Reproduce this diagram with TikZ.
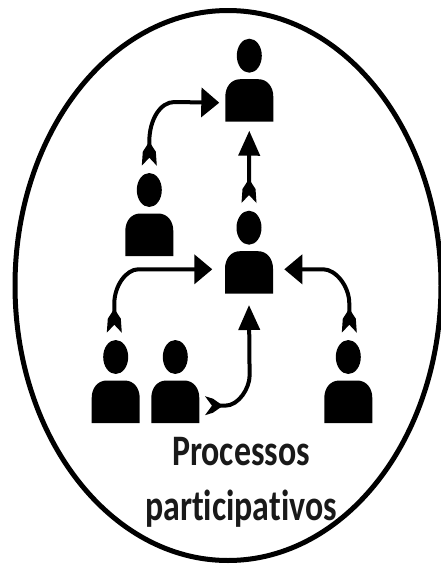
\documentclass[tikz,border=0pt]{standalone}
\usepackage{fontspec}
\setmainfont[Ligatures=NoCommon]{Carlito}
\usetikzlibrary{arrows.meta,calc}
\newcommand{\capt}[1]{\scalebox{1.13}[1.45]{\bfseries\fontsize{30}{30}\selectfont #1}}
\tikzset{
  x=1pt,y=-1pt,
  link/.style={line width=4pt,black},
  vhead/.style={-{Triangle[length=25pt,width=21pt]}},
  hhead/.style={-{Triangle[length=18pt,width=29pt]}},
  caption/.style={inner sep=0pt,text=black!90},
  vfletch/.pic={
    \fill[black] (0,-24) -- (6.5,-14) -- (7.5,0) -- (0,-8) -- (-7.5,0) -- (-6.5,-14) -- cycle;
  },
  hfletch/.pic={
    \fill[black] (18,0) -- (8,-7) -- (0,-9.5) -- (7,0) -- (0,9.5) -- (8,7) -- cycle;
  },
  person/.pic={
    \coordinate (-c) at (0,0);
    \fill[black] (0,0) ellipse [x radius=12.5pt,y radius=17pt];
    \fill[black] (-24,66) -- (-24,41) .. controls (-24,31) and (-18,23.5) .. (-9,23.5)
      -- (9,23.5) .. controls (18,23.5) and (24,31) .. (24,41) -- (24,66) -- cycle;
    \coordinate (-top) at (0,-17);
  }
}
\begin{document}
\begin{tikzpicture}
\useasboundingbox (0,0) rectangle (441,566);
\fill[white] (0,0) rectangle (441,566);
\begin{scope}
\clip (0,0) rectangle (441,566);
\coordinate (frame) at (228,285.5);
\draw[black,line width=5pt] (frame) ellipse [x radius=213pt,y radius=275pt];
\end{scope}
\pic (top) at (249.3,55.7) {person};
\pic (left) at (149.3,190) {person};
\pic (mid) at (249,227.7) {person};
\pic (low) at (115.7,357) {person};
\pic (second) at (175.3,357) {person};
\pic (right) at (348.3,357) {person};
\coordinate (topIn) at ($(top-c)+(-30,47)$);
\coordinate (topUnder) at ($(top-c)+(0,75)$);
\coordinate (midIn) at ($(mid-c)+(-36.7,41.6)$);
\coordinate (midInR) at ($(mid-c)+(35.3,41.6)$);
\coordinate (midUnder) at ($(mid-c)+(0,77.3)$);
\coordinate (leftTail) at ($(left-top)+(0,-7.3)$);
\coordinate (midTail) at ($(mid-top)+(0,-7.7)$);
\coordinate (lowTail) at ($(low-top)+(-1.4,-7.3)$);
\coordinate (rightTail) at ($(right-top)+(1,-7.3)$);
\coordinate (secondTail) at ($(second-c)+(29.7,48.7)$);
\pic at (leftTail) {vfletch};
\pic at (midTail) {vfletch};
\pic at (lowTail) {vfletch};
\pic at (rightTail) {vfletch};
\pic at (secondTail) {hfletch};
\draw[link,hhead] ($(leftTail)+(0,-15)$) -- ++(0,-9)
  .. controls +(0,-22) and +(-14,0) .. ++(25,-39.7) -- (topIn);
\draw[link,vhead] ($(midTail)+(0,-15)$) -- (topUnder);
\draw[link,hhead] ($(lowTail)+(0,-15)$) -- ++(0,-14)
  .. controls +(0,-18) and +(-12,0) .. ++(24,-34.4) -- (midIn);
\draw[link,hhead] ($(rightTail)+(0,-15)$) -- ++(0,-14)
  .. controls +(0,-18) and +(12,0) .. ++(-26,-34.4) -- (midInR);
\draw[link,vhead] ($(secondTail)+(10,0)$) -- ++(10,0)
  .. controls +(14,0) and +(0,12) .. ++(24.6,-30) -- (midUnder);
\node[caption] (t1) at (241,452) {\capt{Processos}};
\node[caption] (t2) at (241,509) {\capt{participativos}};
\end{tikzpicture}
\end{document}
